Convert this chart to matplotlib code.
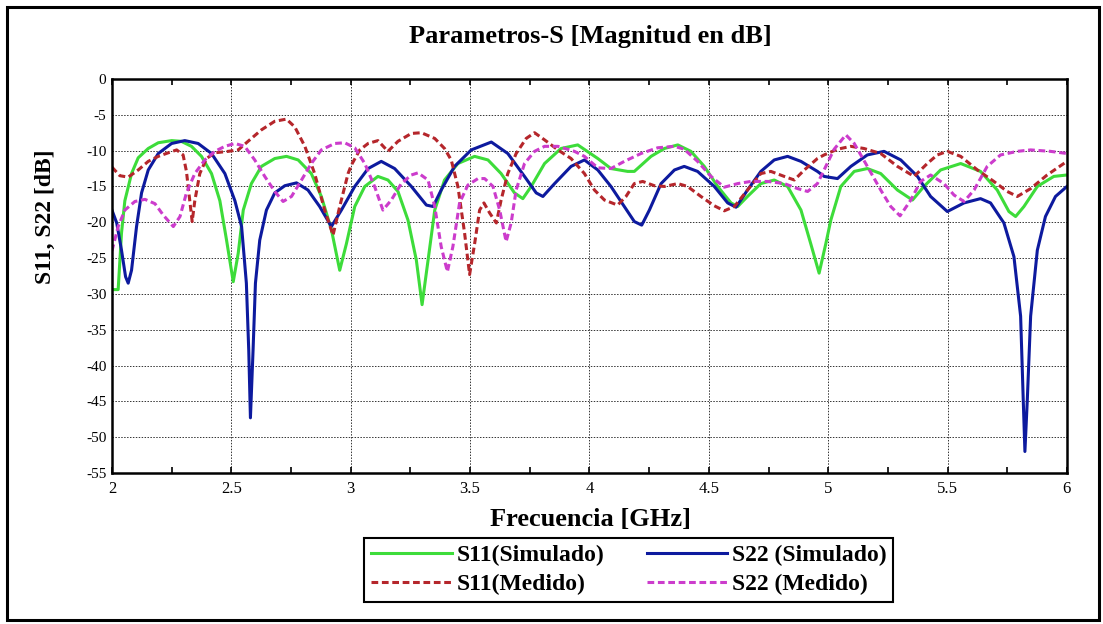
import matplotlib
matplotlib.use("Agg")
import matplotlib.pyplot as plt
from matplotlib.patches import Rectangle
from matplotlib.ticker import MultipleLocator

# S11 simulado
s11_sim_f = [2.0, 2.026, 2.04, 2.054, 2.082, 2.11, 2.152, 2.194, 2.25, 2.29, 2.333, 2.375,
             2.417, 2.452, 2.48, 2.508, 2.529, 2.55, 2.584, 2.626, 2.682, 2.731, 2.78, 2.835,
             2.877, 2.919, 2.954, 2.982, 3.017, 3.059, 3.114, 3.156, 3.198, 3.24, 3.275, 3.299,
             3.324, 3.352, 3.393, 3.449, 3.519, 3.575, 3.63, 3.686, 3.721, 3.756, 3.812, 3.881,
             3.951, 4.035, 4.09, 4.16, 4.188, 4.258, 4.314, 4.37, 4.425, 4.481, 4.537, 4.593,
             4.621, 4.662, 4.718, 4.774, 4.83, 4.886, 4.927, 4.962, 4.99, 5.011, 5.053, 5.109,
             5.164, 5.22, 5.29, 5.353, 5.401, 5.471, 5.555, 5.638, 5.708, 5.757, 5.785, 5.82,
             5.876, 5.945, 6.0]
s11_sim_db = [-29.4, -29.4, -21.5, -17.0, -13.2, -11.0, -9.7, -8.9, -8.6, -8.7, -9.4, -10.8,
              -13.2, -17.0, -22.5, -28.3, -24.3, -18.3, -14.6, -12.2, -11.1, -10.8, -11.3, -13.2,
              -16.4, -21.0, -26.7, -23.0, -17.8, -15.0, -13.6, -14.1, -15.7, -19.7, -25.3, -31.5,
              -25.3, -18.3, -14.1, -11.8, -10.8, -11.3, -13.2, -15.9, -16.7, -15.0, -11.8, -9.7,
              -9.2, -11.1, -12.5, -12.9, -12.9, -10.8, -9.7, -9.2, -10.1, -12.2, -15.0, -17.3,
              -17.8, -16.4, -14.6, -14.1, -15.0, -18.3, -23.0, -27.1, -23.0, -19.7, -15.0, -12.9,
              -12.5, -13.2, -15.5, -16.9, -15.0, -12.7, -11.8, -12.9, -15.5, -18.5, -19.2, -17.8,
              -15.0, -13.6, -13.4]

# S22 simulado
s22_sim_f = [2.0, 2.02, 2.04, 2.057, 2.068, 2.082, 2.103, 2.124, 2.152, 2.194, 2.25, 2.305,
             2.361, 2.417, 2.473, 2.515, 2.543, 2.563, 2.573, 2.58, 2.591, 2.601, 2.619, 2.647,
             2.682, 2.724, 2.773, 2.821, 2.87, 2.919, 2.961, 3.017, 3.073, 3.128, 3.184, 3.254,
             3.317, 3.345, 3.379, 3.435, 3.505, 3.589, 3.658, 3.728, 3.777, 3.805, 3.854, 3.923,
             3.979, 4.035, 4.09, 4.146, 4.188, 4.219, 4.251, 4.3, 4.356, 4.397, 4.453, 4.523,
             4.579, 4.614, 4.662, 4.718, 4.774, 4.83, 4.886, 4.955, 4.983, 5.039, 5.095, 5.164,
             5.234, 5.304, 5.374, 5.429, 5.499, 5.569, 5.638, 5.68, 5.736, 5.778, 5.806, 5.817,
             5.824, 5.834, 5.848, 5.876, 5.91, 5.952, 6.0]
s22_sim_db = [-18.3, -20.1, -23.9, -27.6, -28.5, -26.7, -20.6, -15.9, -12.7, -10.4, -9.0, -8.6,
              -9.0, -10.4, -13.2, -17.0, -20.6, -28.5, -37.9, -47.3, -37.9, -28.5, -22.5, -18.3,
              -15.9, -14.9, -14.5, -15.5, -17.8, -20.6, -18.3, -15.0, -12.5, -11.5, -12.5, -15.0,
              -17.6, -17.8, -15.5, -12.2, -9.9, -8.8, -10.4, -13.6, -15.9, -16.4, -14.6, -12.2,
              -11.3, -12.7, -15.0, -17.8, -19.9, -20.4, -18.3, -14.6, -12.7, -12.2, -12.9, -15.0,
              -17.3, -17.9, -15.5, -12.9, -11.3, -10.8, -11.5, -12.9, -13.6, -13.9, -12.2, -10.6,
              -10.1, -11.3, -13.6, -16.4, -18.5, -17.3, -16.7, -17.3, -20.1, -24.8, -33.1, -44.8,
              -52.0, -44.8, -33.1, -23.9, -19.2, -16.4, -15.0]

# S11 medido
s11_med_f = [2.0, 2.033, 2.068, 2.11, 2.152, 2.194, 2.236, 2.271, 2.298, 2.312, 2.326, 2.336,
             2.347, 2.368, 2.396, 2.431, 2.487, 2.529, 2.57, 2.626, 2.682, 2.731, 2.766, 2.808,
             2.849, 2.891, 2.926, 2.954, 2.989, 3.003, 3.038, 3.073, 3.114, 3.156, 3.198, 3.254,
             3.296, 3.352, 3.393, 3.421, 3.449, 3.477, 3.498, 3.519, 3.54, 3.558, 3.582, 3.61,
             3.63, 3.658, 3.693, 3.735, 3.77, 3.812, 3.868, 3.923, 3.979, 4.021, 4.063, 4.118,
             4.153, 4.188, 4.223, 4.272, 4.314, 4.37, 4.411, 4.467, 4.523, 4.565, 4.607, 4.662,
             4.718, 4.76, 4.816, 4.858, 4.9, 4.955, 4.983, 5.039, 5.095, 5.15, 5.22, 5.29, 5.36,
             5.415, 5.457, 5.499, 5.555, 5.625, 5.694, 5.75, 5.792, 5.848, 5.917, 6.0]
s11_med_db = [-12.3, -13.5, -13.7, -12.7, -11.5, -10.8, -10.3, -9.9, -10.6, -12.9, -17.0, -19.9,
              -17.0, -13.2, -11.1, -10.3, -10.1, -9.9, -8.7, -7.1, -5.9, -5.6, -6.7, -9.4,
              -13.2, -18.3, -21.8, -17.8, -13.2, -12.0, -9.9, -9.0, -8.6, -10.1, -8.7, -7.6,
              -7.5, -8.3, -9.7, -11.3, -15.0, -21.5, -27.3, -23.0, -18.3, -17.3, -18.7, -20.1,
              -16.9, -13.2, -10.4, -8.3, -7.5, -8.5, -9.9, -11.1, -13.2, -15.5, -16.9, -17.6,
              -16.4, -14.6, -14.3, -14.9, -15.0, -14.6, -15.0, -16.4, -17.7, -18.4, -17.8, -15.5,
              -13.2, -12.9, -13.6, -14.1, -12.7, -11.1, -10.6, -9.8, -9.4, -9.7, -10.4, -12.2, -13.6,
              -11.8, -10.6, -10.1, -10.8, -12.7, -14.3, -15.7, -16.4, -15.3, -13.4, -11.5]

# S22 medido
s22_med_f = [2.0, 2.026, 2.054, 2.096, 2.138, 2.18, 2.215, 2.257, 2.285, 2.312, 2.347, 2.389,
             2.431, 2.473, 2.515, 2.556, 2.598, 2.64, 2.682, 2.717, 2.752, 2.794, 2.835, 2.877,
             2.933, 2.975, 3.017, 3.059, 3.1, 3.135, 3.17, 3.212, 3.254, 3.282, 3.324, 3.352,
             3.379, 3.405, 3.428, 3.456, 3.491, 3.533, 3.561, 3.596, 3.624, 3.651, 3.672, 3.693,
             3.728, 3.77, 3.812, 3.868, 3.937, 3.979, 4.035, 4.09, 4.146, 4.216, 4.286, 4.356,
             4.397, 4.453, 4.509, 4.565, 4.621, 4.676, 4.746, 4.816, 4.872, 4.914, 4.955, 4.99,
             5.025, 5.074, 5.109, 5.164, 5.22, 5.262, 5.301, 5.346, 5.387, 5.429, 5.485, 5.527,
             5.569, 5.611, 5.666, 5.722, 5.792, 5.848, 5.931, 6.0]
s22_med_db = [-24.0, -20.6, -18.3, -17.1, -16.8, -17.4, -19.0, -20.6, -19.2, -15.9, -13.2, -11.3,
              -10.1, -9.4, -9.0, -9.4, -11.3, -13.6, -15.7, -17.1, -16.4, -14.1, -11.8, -9.9,
              -9.0, -8.9, -9.6, -11.8, -15.0, -18.3, -16.9, -14.6, -13.4, -13.1, -14.1, -17.8,
              -23.4, -26.9, -23.4, -17.3, -14.8, -13.9, -13.9, -15.0, -18.3, -22.7, -20.1, -15.5,
              -11.8, -10.1, -9.4, -9.4, -10.1, -10.8, -12.4, -12.5, -11.5, -10.4, -9.6, -9.4,
              -9.8, -11.5, -13.6, -15.1, -14.6, -14.3, -14.3, -14.6, -15.3, -15.7, -14.6, -12.2,
              -9.8, -7.8, -9.0, -12.2, -15.5, -17.8, -19.1, -16.9, -14.3, -13.4, -14.6, -16.2,
              -17.1, -15.5, -12.2, -10.6, -10.1, -9.9, -10.1, -10.4]

x_ticks = [2, 2.5, 3, 3.5, 4, 4.5, 5, 5.5, 6]
x_labels = ["2", "2.5", "3", "3.5", "4", "4.5", "5", "5.5", "6"]
y_ticks = [0, -5, -10, -15, -20, -25, -30, -35, -40, -45, -50, -55]

serif = ["Liberation Serif", "DejaVu Serif"]

fig = plt.figure(figsize=(11.03, 6.24), dpi=100)
ax = fig.add_axes([0.1015, 0.242, 0.8658, 0.6314])

l1, = ax.plot(s11_sim_f, s11_sim_db, color="#3ddc3a", lw=2.2, label="S11(Simulado)")
l3, = ax.plot(s22_sim_f, s22_sim_db, color="#0d1a9e", lw=2.2, label="S22 (Simulado)")
l2, = ax.plot(s11_med_f, s11_med_db, color="#b5262b", lw=2.2, ls=(0, (2.2, 1.2)),
              label="S11(Medido)")
l4, = ax.plot(s22_med_f, s22_med_db, color="#cc3ccc", lw=2.2, ls=(0, (2.2, 1.2)),
              label="S22 (Medido)")

ax.set_xlim(2, 6)
ax.set_ylim(-55, 0)
ax.set_xticks(x_ticks)
ax.set_xticklabels(x_labels, family=serif)
ax.xaxis.set_minor_locator(MultipleLocator(0.25))
ax.set_yticks(y_ticks)
ax.set_yticklabels([str(v) for v in y_ticks], family=serif)
ax.grid(True, which="major", color="#333333", linestyle=(0, (1.5, 1.5)), lw=0.7)
ax.tick_params(axis="x", which="both", direction="in", top=True, length=4, width=1.2,
               labelsize=12, pad=6)
ax.tick_params(axis="y", which="both", length=0, labelsize=11, pad=4)
for sp in ax.spines.values():
    sp.set_linewidth(1.8)

fig.text(0.535, 0.941, "Parametros-S [Magnitud en dB]", ha="center", va="center",
         family=serif, weight="bold", fontsize=19)
fig.text(0.535, 0.168, "Frecuencia [GHz]", ha="center", va="center",
         family=serif, weight="bold", fontsize=19)
fig.text(0.041, 0.652, "S11, S22 [dB]", ha="center", va="center", rotation=90,
         family=serif, weight="bold", fontsize=17)

leg = fig.legend(handles=[l1, l2, l3, l4], loc="center", bbox_to_anchor=(0.570, 0.0865),
                 ncol=2, prop={"family": serif, "weight": "bold", "size": 17},
                 handlelength=3.4, handletextpad=0.2, columnspacing=1.8,
                 labelspacing=0.3, borderpad=0.3, fancybox=False, framealpha=1)
leg.get_frame().set_edgecolor("black")
leg.get_frame().set_linewidth(1.5)

fig.patches.append(Rectangle((0.006, 0.006), 0.99, 0.983, transform=fig.transFigure,
                             fill=False, edgecolor="black", lw=2.2))

fig.savefig("out.png", dpi=100)
